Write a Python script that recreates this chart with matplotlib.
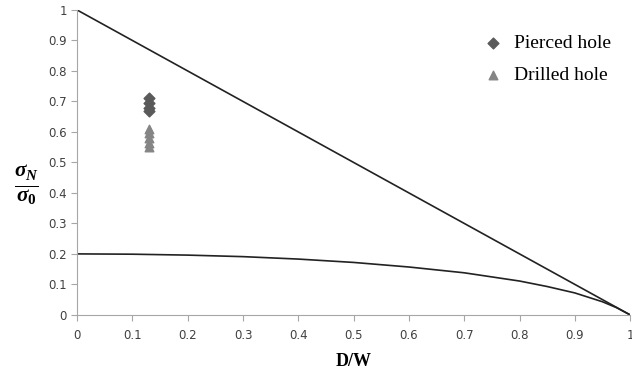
import matplotlib
matplotlib.use("Agg")
import matplotlib.pyplot as plt

# ── Data ─────────────────────────────────────────────────────
dw_upper = [0.0, 1.0]
sn_upper = [1.0, 0.0]

dw_lower = [0.0, 0.1, 0.2, 0.3, 0.4, 0.5, 0.6, 0.7, 0.8, 0.85, 0.9, 0.95, 0.975, 1.0]
sn_lower = [0.2, 0.199, 0.196, 0.191, 0.183, 0.172, 0.157, 0.138, 0.111, 0.093, 0.072, 0.043, 0.024, 0.0]

pierced_x = [0.13, 0.13, 0.13, 0.13]
pierced_y = [0.71, 0.695, 0.68, 0.67]

drilled_x = [0.13, 0.13, 0.13, 0.13, 0.13]
drilled_y = [0.61, 0.595, 0.58, 0.565, 0.55]

xticks = [0, 0.1, 0.2, 0.3, 0.4, 0.5, 0.6, 0.7, 0.8, 0.9, 1]
yticks = [0, 0.1, 0.2, 0.3, 0.4, 0.5, 0.6, 0.7, 0.8, 0.9, 1]

# bold serif math for the sigma fraction
plt.rcParams['mathtext.fontset'] = 'custom'
plt.rcParams['mathtext.it'] = 'Liberation Serif:italic:bold'
plt.rcParams['mathtext.rm'] = 'Liberation Serif:bold'
plt.rcParams['mathtext.bf'] = 'Liberation Serif:bold'

fig = plt.figure(figsize=(6.32, 3.70), dpi=100)
ax = fig.add_axes([0.122, 0.149, 0.875, 0.824])

ax.plot(dw_upper, sn_upper, color='#222222', lw=1.2)
ax.plot(dw_lower, sn_lower, color='#222222', lw=1.2)
ax.scatter(pierced_x, pierced_y, marker='D', s=30, color='#5a5a5a', label='Pierced hole', zorder=3)
ax.scatter(drilled_x, drilled_y, marker='^', s=38, color='#858585', label='Drilled hole', zorder=3)

ax.set_xlim(0, 1)
ax.set_ylim(0, 1)
ax.set_xticks(xticks)
ax.set_yticks(yticks)
ax.set_xticklabels([f'{t:g}' for t in xticks])
ax.set_yticklabels([f'{t:g}' for t in yticks])

for side in ['top', 'right']:
    ax.spines[side].set_visible(False)
for side in ['left', 'bottom']:
    ax.spines[side].set_color('#a6a6a6')
ax.tick_params(colors='#a6a6a6', length=4, labelcolor='#404040', labelsize=8.5)
ax.tick_params(axis='x', pad=6)

ax.set_xlabel('D/W', fontsize=13, fontweight='bold', family='Liberation Serif', labelpad=8)
fig.text(0.042, 0.50, r'$\frac{\sigma_N}{\sigma_0}$', fontsize=22,
         ha='center', va='center')

ax.legend(loc='upper right', frameon=False, handletextpad=0.1, labelspacing=0.75,
          borderaxespad=0.3, prop={'family': 'Liberation Serif', 'size': 14},
          bbox_to_anchor=(0.99, 0.965))

plt.savefig('out.png', dpi=100)
